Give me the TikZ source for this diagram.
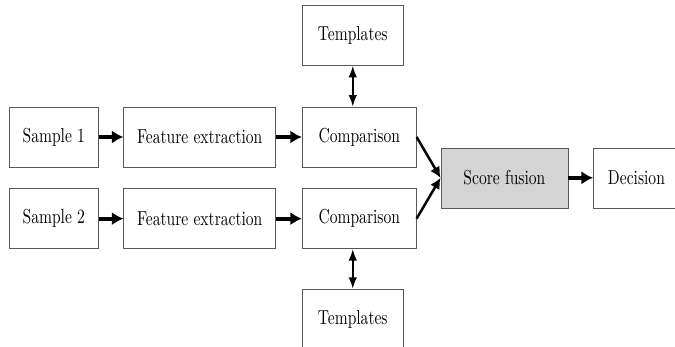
\documentclass[tikz,border=0pt]{standalone}
\usepackage{fontspec}
\setmainfont{lmroman10-regular.otf}[FakeStretch=0.77]
\usepackage{tikz}
\usetikzlibrary{arrows.meta, positioning, calc}

\begin{document}
\begin{tikzpicture}[x=0.643pt, y=-0.643pt,
    box/.style={draw=black!65, thin, minimum height=38.6pt, inner sep=0pt,
                font=\fontsize{13}{15}\selectfont},
    flow/.style={-{Latex[length=7.5pt,width=8.5pt]}, line width=2.6pt},
    feed/.style={-{Latex[length=7pt,width=7pt]}, line width=1.6pt},
    link/.style={{Latex[length=7.5pt,width=5.5pt]}-{Latex[length=7.5pt,width=5.5pt]}, line width=1.3pt}]

    \useasboundingbox (0,0) rectangle (675,347);

    % first row
    \node[box, minimum width=57.2pt, anchor=west] (smp1) at (9,137) {Sample 1};
    \node[box, minimum width=97.7pt, right=16pt of smp1] (fex1) {Feature extraction};
    \node[box, minimum width=73.3pt, right=16.7pt of fex1] (cmp1) {Comparison};

    % second row
    \node[box, minimum width=57.2pt, below=13.5pt of smp1] (smp2) {Sample 2};
    \node[box, minimum width=97.7pt, right=16pt of smp2] (fex2) {Feature extraction};
    \node[box, minimum width=73.3pt, right=16.7pt of fex2] (cmp2) {Comparison};

    % templates
    \node[box, minimum width=64.9pt, above=26.4pt of cmp1.north west, anchor=south west] (tpl1) {Templates};
    \node[box, minimum width=64.9pt, below=25.7pt of cmp2.south west, anchor=north west] (tpl2) {Templates};

    % fusion and decision
    \node[box, fill=black!17, minimum width=81.7pt, anchor=west] (fus)
        at ($(cmp1.east)!0.5!(cmp2.east)+(15.4pt,0)$) {Score fusion};
    \node[box, minimum width=55.3pt, right=16pt of fus] (dec) {Decision};

    % arrows
    \draw[flow] (smp1) -- (fex1);
    \draw[flow] (fex1) -- (cmp1);
    \draw[flow] (smp2) -- (fex2);
    \draw[flow] (fex2) -- (cmp2);
    \draw[feed] (cmp1.east) -- (fus.west);
    \draw[feed] (cmp2.east) -- (fus.west);
    \draw[flow] (fus) -- (dec);
    \draw[link] (tpl1.south) -- (tpl1.south |- cmp1.north);
    \draw[link] (tpl2.north) -- (tpl2.north |- cmp2.south);

\end{tikzpicture}
\end{document}
